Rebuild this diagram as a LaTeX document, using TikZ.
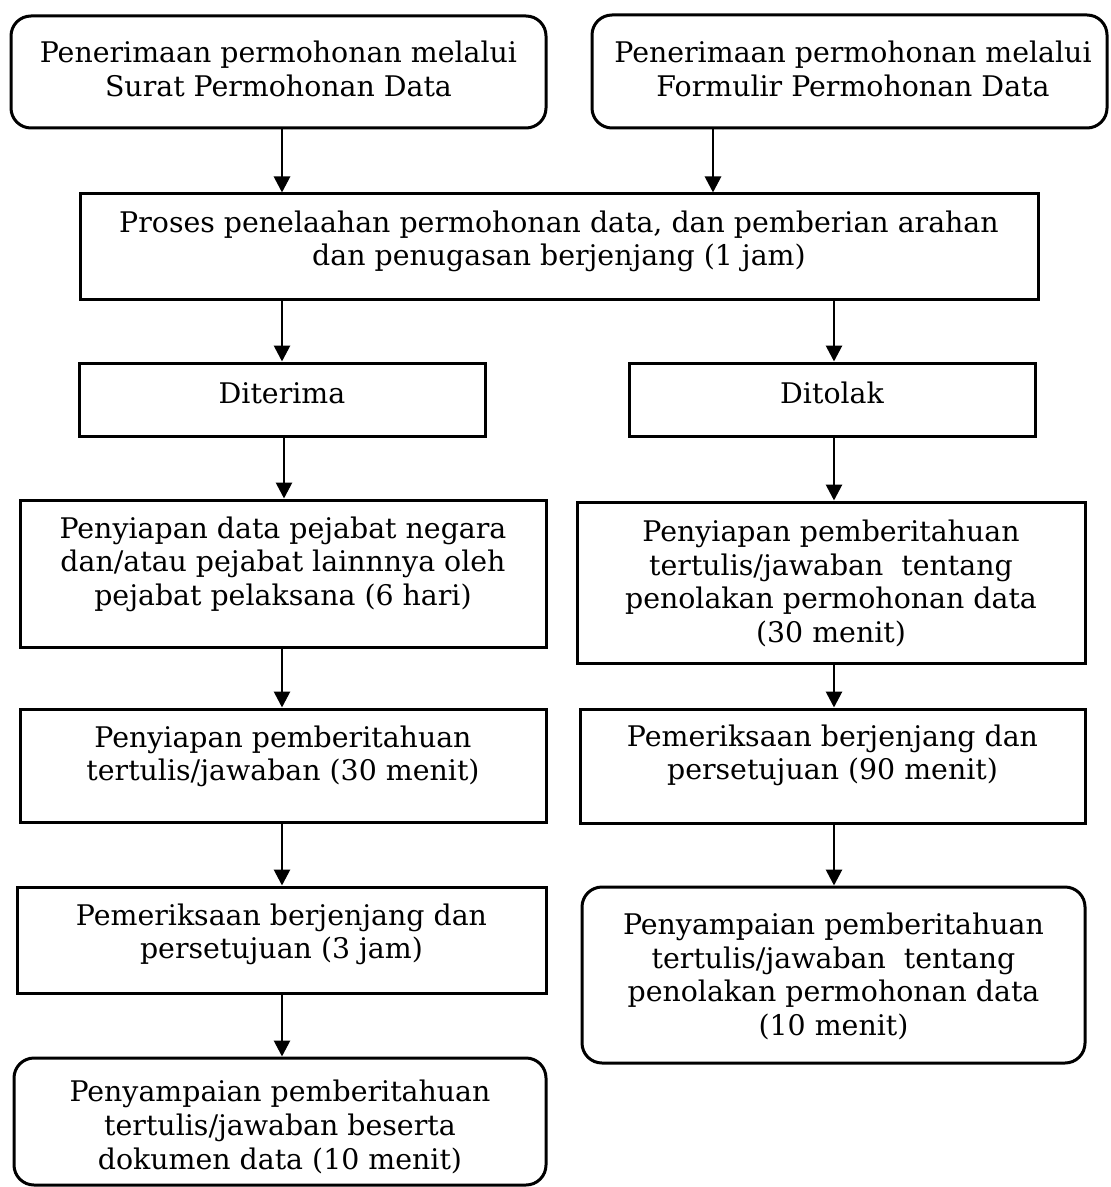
\documentclass[tikz,border=0pt]{standalone}
\usepackage{fontspec}
\setmainfont{DejaVu Serif}
\usetikzlibrary{arrows.meta}
\tikzset{
  frame/.style={draw, line width=1.5pt, inner sep=0pt},
  rframe/.style={frame, rounded corners=10pt},
  txt/.style={align=center, inner sep=0pt, font=\fontsize{14.2}{16.8}\selectfont},
  arr/.style={line width=1.4pt, -{Triangle[length=8pt,width=8pt]}}
}
\begin{document}
\begin{tikzpicture}[x=0.5pt,y=-0.5pt]
\useasboundingbox (0,0) rectangle (1110,1187);
% boxes
\node[rframe, minimum width=267.5pt, minimum height=56pt] (b1) at (278.5,72) {};
\node[rframe, minimum width=257.5pt, minimum height=56.5pt] (b2) at (849.5,71.5) {};
\node[frame, minimum width=479pt, minimum height=53pt] (b3) at (559,247) {};
\node[frame, minimum width=203pt, minimum height=36.5pt] (b4) at (282,399.5) {};
\node[frame, minimum width=203pt, minimum height=36.5pt] (b5) at (832,399.5) {};
\node[frame, minimum width=263pt, minimum height=73.5pt] (b6) at (283,573.5) {};
\node[frame, minimum width=254pt, minimum height=80.5pt] (b7) at (831,582.5) {};
\node[frame, minimum width=263pt, minimum height=56.5pt] (b8) at (283,765.5) {};
\node[frame, minimum width=252.5pt, minimum height=57pt] (b9) at (832.5,766) {};
\node[frame, minimum width=264.5pt, minimum height=53pt] (b10) at (281.5,940) {};
\node[rframe, minimum width=251.5pt, minimum height=88pt] (b11) at (833.5,975) {};
\node[rframe, minimum width=266pt, minimum height=63.5pt] (b12) at (280,1121.5) {};
% texts
\node[txt] (t1) at (278.5,69) {Penerimaan permohonan melalui\\Surat Permohonan Data};
\node[txt] (t2) at (853,69) {Penerimaan permohonan melalui\\Formulir Permohonan Data};
\node[txt] (t3) at (559,241.5) {Proses penelaahan permohonan data, dan pemberian arahan\\dan penugasan berjenjang (1 jam)};
\node[txt] (t4) at (282,393) {Diterima};
\node[txt] (t5) at (832,393) {Ditolak};
\node[txt] (t6) at (283,564) {Penyiapan data pejabat negara\\dan/atau pejabat lainnnya oleh\\pejabat pelaksana (6 hari)};
\node[txt] (t7) at (831,583.5) {Penyiapan pemberitahuan\\tertulis/jawaban\ \ tentang\\penolakan permohonan data\\(30 menit)};
\node[txt] (t8) at (283,756.5) {Penyiapan pemberitahuan\\tertulis/jawaban (30 menit)};
\node[txt] (t9) at (832.5,755.5) {Pemeriksaan berjenjang dan\\persetujuan (90 menit)};
\node[txt] (t10) at (281.5,934.5) {Pemeriksaan berjenjang dan\\persetujuan (3 jam)};
\node[txt] (t11) at (833.5,976.5) {Penyampaian pemberitahuan\\tertulis/jawaban\ \ tentang\\penolakan permohonan data\\(10 menit)};
\node[txt] (t12) at (280,1127) {Penyampaian pemberitahuan\\tertulis/jawaban beserta\\dokumen data (10 menit)};
% connectors
\coordinate (xa) at (282,0);
\coordinate (xb) at (713,0);
\coordinate (xc) at (834,0);
\coordinate (xd) at (284,0);
\draw[arr] (b1.south -| xa) -- (b3.north -| xa);
\draw[arr] (b2.south -| xb) -- (b3.north -| xb);
\draw[arr] (b3.south -| xa) -- (b4.north -| xa);
\draw[arr] (b3.south -| xc) -- (b5.north -| xc);
\draw[arr] (b4.south -| xd) -- (b6.north -| xd);
\draw[arr] (b5.south -| xc) -- (b7.north -| xc);
\draw[arr] (b6.south -| xa) -- (b8.north -| xa);
\draw[arr] (b7.south -| xc) -- (b9.north -| xc);
\draw[arr] (b8.south -| xa) -- (b10.north -| xa);
\draw[arr] (b9.south -| xc) -- (b11.north -| xc);
\draw[arr] (b10.south -| xa) -- (b12.north -| xa);
\end{tikzpicture}
\end{document}
